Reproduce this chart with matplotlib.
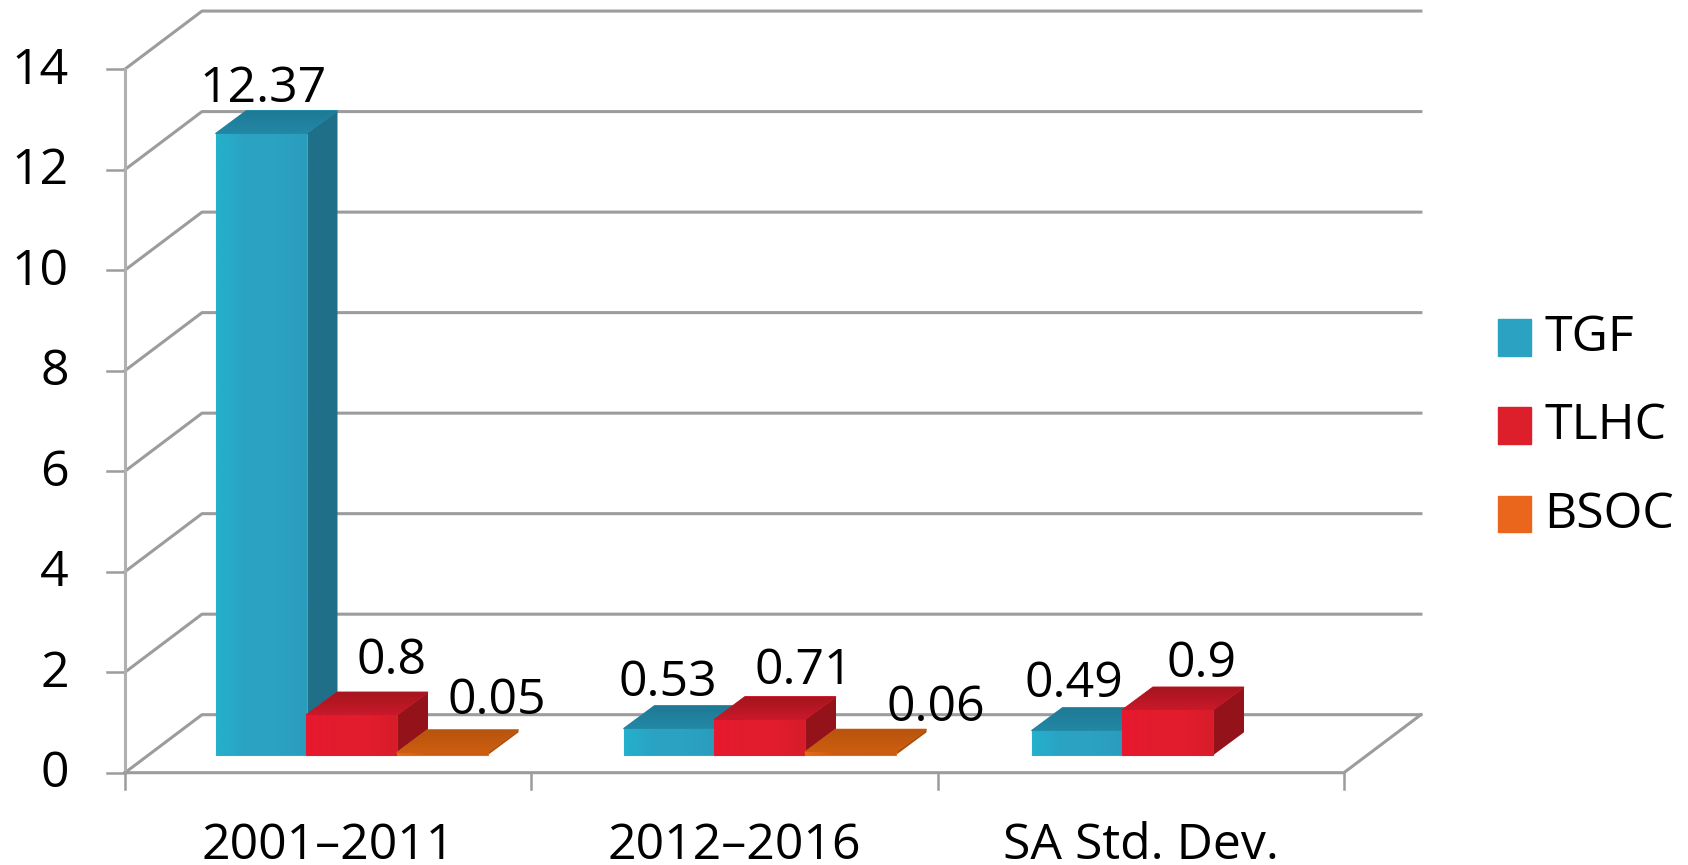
import numpy as np
import matplotlib
matplotlib.use('Agg')
from matplotlib import pyplot as plt
from matplotlib.colors import LinearSegmentedColormap
from matplotlib.legend_handler import HandlerPatch
from matplotlib.patches import Polygon, Patch

plt.rcParams['font.family'] = ['Open Sans', 'DejaVu Sans']

# values
categories = ['2001–2011', '2012–2016', 'SA Std. Dev.']
series = ['TGF', 'TLHC', 'BSOC']
tgf = [12.37, 0.53, 0.49]
tlhc = [0.8, 0.71, 0.9]
bsoc = [0.05, 0.06, None]
y_ticks = [0, 2, 4, 6, 8, 10, 12, 14]

# label nudges in pixels, the original chart placed them by hand
tgf_nudge = [(2, 32), (-1, 33), (-3, 34)]
tlhc_nudge = [(40, 41), (44, 36), (34, 33)]
bsoc_nudge = [(55, 39), (86, 31), None]

# pixel scale of the chart
px_x = 406.3
px_y = 50.26
x0_px = 125
y0_px = 772.7

# oblique look: depth of the box, and of the bars inside it
box_dx, box_dy = 77 / px_x, 58 / px_y
bar_dx, bar_dy = 31 / px_x, 23 / px_y
front_dx, front_dy = 23 / px_x, 17.4 / px_y
bar_w = 91 / px_x
pad = 67.5 / px_x
group_step = 408 / px_x

grid_c = '#9c9c9c'
fs = 36
legend_colors = ['#2ba2c2', '#dc1f2b', '#ea661c']
# front left, front mid, front right, top back, top front, side
shades = [('#25b0cc', '#2ba2c2', '#2a9dbd', '#1f7a96', '#2288a6', '#1f6f88'),
          ('#e8182f', '#e21c2c', '#d81c2a', '#a5151d', '#c9192a', '#94131b'),
          ('#e66a18', '#c85c12', '#c85c12', '#b8540e', '#cc5e10', '#a84c0c')]

fig = plt.figure(figsize=(16.88, 8.65), dpi=100)
ax = fig.add_axes([0, 0, 1, 1])
xlim = (-x0_px / px_x, (1688 - x0_px) / px_x)
ylim = (-(865 - y0_px) / px_y, y0_px / px_y)
ax.axis('off')

n = len(categories)

# box: back wall, left wall diagonals, floor
for v in y_ticks:
    ax.plot([0, box_dx, n + box_dx], [v, v + box_dy, v + box_dy], color=grid_c, lw=2.2, zorder=1)
    ax.plot([-18 / px_x, 0], [v, v], color=grid_c, lw=1.8, zorder=1)
ax.plot([0, 0], [0, y_ticks[-1]], color='#b0b0b0', lw=2.2, zorder=1)
ax.plot([0, n, n + box_dx], [0, 0, box_dy], color=grid_c, lw=2.2, zorder=1)
for i in range(n + 1):
    ax.plot([i, i], [0, -16 / px_y], color=grid_c, lw=1.8, zorder=1)


def shaded(pts, cols, horizontal=True):
    # polygon filled with a soft gradient, imshow clipped to its outline
    pts = np.array(pts)
    # solid base first, so no white seam shows between faces
    ax.add_patch(Polygon(pts, fc=cols[0], ec=cols[0], lw=0.8, zorder=3))
    cmap = LinearSegmentedColormap.from_list('f', cols)
    ramp = np.linspace(0, 1, 64)
    ramp = ramp.reshape(1, -1) if horizontal else ramp.reshape(-1, 1)
    im = ax.imshow(ramp, cmap=cmap, aspect='auto', zorder=3, origin='lower',
                   extent=(pts[:, 0].min(), pts[:, 0].max(), pts[:, 1].min(), pts[:, 1].max()))
    poly = Polygon(pts, fc='none', ec='none', transform=ax.transData)
    ax.add_patch(poly)
    im.set_clip_path(poly)


def bar3d(x, v, c):
    y = front_dy
    front = [(x, y), (x + bar_w, y), (x + bar_w, y + v), (x, y + v)]
    top = [(x, y + v), (x + bar_w, y + v), (x + bar_w + bar_dx, y + v + bar_dy), (x + bar_dx, y + v + bar_dy)]
    side = [(x + bar_w, y), (x + bar_w + bar_dx, y + bar_dy), (x + bar_w + bar_dx, y + v + bar_dy), (x + bar_w, y + v)]
    ax.add_patch(Polygon(side, fc=c[5], ec='none', zorder=3))
    shaded(top, [c[4], c[3]], horizontal=False)
    shaded(front, [c[0], c[1], c[1], c[2]])


rows = [(tgf, tgf_nudge), (tlhc, tlhc_nudge), (bsoc, bsoc_nudge)]
for s, (vals, nudge) in enumerate(rows):
    for i, v in enumerate(vals):
        if v is None:
            continue
        x = i * group_step + front_dx + pad + s * (bar_w - 0.5 / px_x)
        bar3d(x, v, shades[s])
        ax.annotate(str(v), (x + bar_w / 2, front_dy + v), xytext=nudge[i],
                    textcoords='offset pixels', ha='center', va='baseline',
                    fontsize=fs, color='black', zorder=5)

ax.set_xlim(xlim)
ax.set_ylim(ylim)

for v in y_ticks:
    ax.annotate(str(v), (0, v), xytext=(-56, -2), textcoords='offset pixels',
                ha='right', va='center', fontsize=fs, color='black')
for i, c in enumerate(categories):
    ax.annotate(c, (i + 0.5, 0), xytext=(0, -86), textcoords='offset pixels',
                ha='center', va='baseline', fontsize=fs, color='black')

handles = [Patch(color=legend_colors[k], label=series[k]) for k in range(3)]
ax.legend(handles=handles, loc='upper left', bbox_to_anchor=(1498 / 1688, 1 - 313.5 / 865),
          frameon=False, fontsize=fs, handlelength=0.66, handleheight=0.485,
          handler_map={Patch: HandlerPatch(ypad=-0.175)},
          handletextpad=0.27, labelspacing=0.775, borderpad=0, borderaxespad=0)

plt.savefig('out.png', dpi=100)
